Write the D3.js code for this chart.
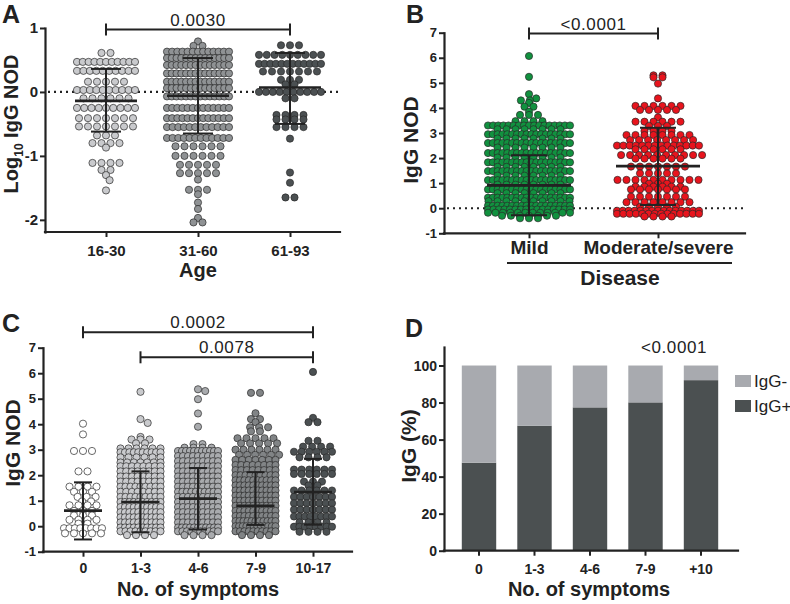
<!DOCTYPE html>
<html>
<head>
<meta charset="utf-8">
<script src="https://cdn.jsdelivr.net/npm/d3@7"></script>
<style>
  body { margin: 0; background: #fff; }
  svg { font-family: "Liberation Sans", Arial, sans-serif; }
</style>
</head>
<body>
<div id="chart"></div>
<script>
// ---- data ----
// dot rows: [value, number of points at that value]

// A: log10 IgG NOD by age
const ageGroups = ["16-30", "31-60", "61-93"];
const age1630 = [[0.61,2],[0.47,11],[0.33,10],[0.16,5],[0.03,10],[-0.1,6],[-0.25,9],[-0.41,7],[-0.54,7],[-0.68,3],[-0.8,4],[-0.87,1],[-1.11,4],[-1.22,2],[-1.3,1],[-1.38,1],[-1.54,1]];
const age3160 = [[0.79,1],[0.72,2],[0.63,13],[0.53,14],[0.42,14],[0.29,14],[0.16,14],[0.06,14],[-0.07,14],[-0.25,13],[-0.41,13],[-0.55,12],[-0.72,12],[-0.85,6],[-1.0,6],[-1.14,5],[-1.27,5],[-1.37,1],[-1.53,3],[-1.6,1],[-1.73,1],[-1.83,1],[-1.97,1],[-2.04,2]];
const age6193 = [[0.73,3],[0.58,9],[0.44,12],[0.32,7],[0.19,3],[0.12,2],[0.0,10],[-0.1,2],[-0.36,4],[-0.43,4],[-0.55,4],[-0.73,1],[-1.26,1],[-1.42,1],[-1.65,2]];
const ageMean = [-0.14, -0.06, 0.07];
const ageSdHi = [0.36, 0.53, 0.61];
const ageSdLo = [-0.62, -0.65, -0.5];

// B: IgG NOD by disease
const diseaseGroups = ["Mild", "Moderate/severe"];
const mildRows = [[6.07,1],[5.24,1],[4.55,1],[4.38,1],[4.3,2],[4.2,1],[4.05,2],[3.85,1],[3.72,3],[3.47,4],[3.3,17],[3.15,8],[2.95,18],[2.78,8],[2.6,18],[2.42,8],[2.2,18],[2.02,8],[1.83,18],[1.65,8],[1.48,18],[1.3,8],[1.12,18],[0.94,8],[0.75,18],[0.6,8],[0.42,18],[0.28,10],[0.1,18],[-0.05,16],[-0.18,12],[-0.3,7],[-0.4,3]];
const severeRows = [[5.3,2],[5.22,2],[4.97,1],[4.38,1],[4.08,6],[3.92,5],[3.62,1],[3.45,6],[3.28,3],[3.08,4],[2.92,8],[2.72,8],[2.5,14],[2.35,6],[2.12,10],[1.98,6],[1.66,7],[1.39,5],[1.13,10],[0.98,3],[0.86,6],[0.75,7],[0.46,7],[0.24,8],[0.05,5],[-0.1,15],[-0.22,14],[-0.33,4]];
const diseaseMean = [0.91, 1.68];
const diseaseSdHi = [2.11, 3.21];
const diseaseSdLo = [-0.28, 0.13];

// C: IgG NOD by number of symptoms
const symptomGroups = ["0", "1-3", "4-6", "7-9", "10-17"];
const sym0 = [[4.02,1],[3.6,1],[2.95,3],[2.15,2],[1.55,4],[1.35,3],[1.15,3],[0.97,2],[0.82,4],[0.6,3],[0.42,3],[0.25,4],[0.1,2],[-0.08,8],[-0.28,5]];
const sym13 = [[5.27,1],[4.2,1],[4.05,1],[3.5,1],[3.4,3],[3.25,2],[3.05,6],[2.9,10],[2.7,6],[2.5,7],[2.35,8],[2.15,8],[1.95,8],[1.75,8],[1.55,9],[1.35,8],[1.15,9],[0.95,10],[0.75,10],[0.55,10],[0.35,10],[0.15,10],[-0.05,10],[-0.2,9],[-0.35,4]];
const sym46 = [[5.37,1],[5.3,1],[4.98,1],[4.42,1],[3.9,1],[3.22,2],[3.08,4],[2.95,11],[2.75,9],[2.55,9],[2.35,9],[2.15,9],[1.95,9],[1.75,9],[1.55,9],[1.35,10],[1.15,9],[0.95,9],[0.75,9],[0.55,9],[0.35,9],[0.15,9],[-0.05,11],[-0.2,10],[-0.35,4]];
const sym79 = [[5.23,2],[4.43,1],[4.2,2],[4.08,1],[3.88,3],[3.72,2],[3.45,5],[3.25,5],[3.0,6],[2.8,6],[2.6,7],[2.4,8],[2.2,8],[2.0,9],[1.8,10],[1.6,10],[1.4,10],[1.2,10],[1.0,10],[0.8,10],[0.6,10],[0.4,10],[0.2,11],[0.0,12],[-0.2,10],[-0.35,4]];
const sym1017 = [[6.05,1],[4.25,1],[4.08,2],[3.35,2],[3.12,4],[2.92,6],[2.7,4],[2.22,6],[2.05,6],[1.75,3],[1.6,2],[1.4,6],[1.15,7],[0.9,7],[0.65,7],[0.38,8],[0.15,4],[-0.02,8],[-0.22,4]];
const symMean = [0.61, 0.95, 1.08, 0.8, 1.34];
const symSdHi = [1.72, 2.15, 2.28, 2.12, 2.64];
const symSdLo = [-0.52, -0.24, -0.13, 0.05, 0.06];

// D: IgG status (%) by number of symptoms
const barCats = ["0", "1-3", "4-6", "7-9", "+10"];
const igGPos = [47.5, 67.5, 77.4, 80.1, 92.1];
const igGNeg = [52.5, 32.5, 22.6, 19.9, 7.9];

// ---- drawing ----
const ink = "#222";
const svg = d3.select("#chart").append("svg")
    .attr("width", 790)
    .attr("height", 604);

// dot rows -> pixel offsets (rows spread sideways, sparse rows nudged off neighbours)
function drawDots(g, x, y, name, rows, fill, halfW) {
    const d = 7.2, maxStep = 9;
    const placed = [];
    rows.forEach(([v, n]) => {
        const step = n > 1 ? Math.min(maxStep, 2 * halfW / (n - 1)) : 0;
        const cy = y(v);
        let xs = d3.range(n).map(i => (i - (n - 1) / 2) * step);
        if (n === 1 || step >= d) {
            let best = 0;
            for (const s of [0, d / 2, -d / 2, d, -d]) {
                const ok = xs.every(px => placed.every(p => Math.hypot(p[0] - (px + s), p[1] - cy) >= d * 0.85));
                if (ok) { best = s; break; }
            }
            xs = xs.map(px => px + best);
        }
        xs.forEach(px => placed.push([px, cy]));
    });
    g.append("g").selectAll("circle")
        .data(placed)
        .join("circle")
        .attr("cx", p => x(name) + p[0])
        .attr("cy", p => p[1])
        .attr("r", 3.6)
        .attr("fill", fill)
        .attr("stroke", "#2a2a2a")
        .attr("stroke-width", 0.7);
}

function drawStats(g, x, y, name, mean, lo, hi, meanHalf, capHalf) {
    const cx = x(name);
    const s = g.append("g").attr("stroke", ink).attr("fill", "none");
    s.append("line").attr("x1", cx).attr("x2", cx).attr("y1", y(hi)).attr("y2", y(lo)).attr("stroke-width", 2);
    s.append("line").attr("x1", cx - capHalf).attr("x2", cx + capHalf).attr("y1", y(hi)).attr("y2", y(hi)).attr("stroke-width", 2);
    s.append("line").attr("x1", cx - capHalf).attr("x2", cx + capHalf).attr("y1", y(lo)).attr("y2", y(lo)).attr("stroke-width", 2);
    s.append("line").attr("x1", cx - meanHalf).attr("x2", cx + meanHalf).attr("y1", y(mean)).attr("y2", y(mean)).attr("stroke-width", 2.6);
}

function drawYAxis(g, y, x0, ticks, fs) {
    const ax = g.append("g")
        .attr("transform", `translate(${x0},0)`)
        .call(d3.axisLeft(y).tickValues(ticks).tickFormat(d => String(d))
            .tickSize(5).tickSizeOuter(0).tickPadding(2));
    ax.select(".domain").attr("stroke", ink).attr("stroke-width", 2.2).attr("stroke-linecap", "square");
    ax.selectAll(".tick line").attr("stroke", ink).attr("stroke-width", 2);
    ax.selectAll(".tick text").attr("fill", ink).style("font", `bold ${fs}px "Liberation Sans", Arial, sans-serif`);
}

function drawXAxis(g, x, yBase, x0, x1, fs, pad) {
    g.append("line").attr("x1", x0).attr("x2", x1).attr("y1", yBase).attr("y2", yBase)
        .attr("stroke", ink).attr("stroke-width", 2.2).attr("stroke-linecap", "square");
    const ax = g.append("g")
        .attr("transform", `translate(0,${yBase})`)
        .call(d3.axisBottom(x).tickSize(5).tickSizeOuter(0).tickPadding(pad));
    ax.select(".domain").remove();
    ax.selectAll(".tick line").attr("stroke", ink).attr("stroke-width", 2);
    ax.selectAll(".tick text").attr("fill", ink).style("font", `bold ${fs}px "Liberation Sans", Arial, sans-serif`);
    return ax;
}

function bracket(g, xa, xb, yl, label, ty) {
    const b = g.append("g").attr("stroke", ink).attr("stroke-width", 2);
    b.append("line").attr("x1", xa).attr("x2", xb).attr("y1", yl).attr("y2", yl);
    b.append("line").attr("x1", xa).attr("x2", xa).attr("y1", yl - 6).attr("y2", yl + 6);
    b.append("line").attr("x1", xb).attr("x2", xb).attr("y1", yl - 6).attr("y2", yl + 6);
    g.append("text").attr("x", (xa + xb) / 2).attr("y", ty)
        .attr("text-anchor", "middle").attr("fill", ink)
        .style("font-size", "17px").style("letter-spacing", "0.6px")
        .text(label);
}

function yTitle(g, x, y, fs) {
    return g.append("text")
        .attr("transform", `translate(${x},${y}) rotate(-90)`)
        .attr("text-anchor", "middle").attr("fill", ink)
        .style("font-weight", "bold").style("font-size", fs + "px");
}

function title(g, x, y, fs, txt) {
    g.append("text").attr("x", x).attr("y", y).attr("text-anchor", "middle")
        .attr("fill", ink).style("font-weight", "bold").style("font-size", fs + "px").text(txt);
}

function dottedZero(g, y, x0, x1) {
    g.append("line").attr("x1", x0 + 3).attr("x2", x1).attr("y1", y(0)).attr("y2", y(0))
        .attr("stroke", ink).attr("stroke-width", 2.2).attr("stroke-dasharray", "2,4");
}

function panelLetter(x, y, txt) {
    svg.append("text").attr("x", x).attr("y", y).attr("fill", ink)
        .style("font-weight", "bold").style("font-size", "25px").text(txt);
}

// ---------- Panel A ----------
{
    const g = svg.append("g");
    const x = d3.scalePoint().domain(ageGroups).range([106, 290]);
    const y = d3.scaleLinear().domain([-2.19, 1]).range([232, 28]);
    dottedZero(g, y, 45, 340);
    const rows = [age1630, age3160, age6193];
    const fills = ["#c9cacd", "#8f9294", "#4b5052"];
    const halfW = [29, 31, 31];
    ageGroups.forEach((k, i) => drawDots(g, x, y, k, rows[i], fills[i], halfW[i]));
    ageGroups.forEach((k, i) => drawStats(g, x, y, k, ageMean[i], ageSdLo[i], ageSdHi[i], 31, 15));
    drawYAxis(g, y, 45, [-2, -1, 0, 1], 15);
    drawXAxis(g, x, 232, 45, 340, 15, 8);
    const t = yTitle(g, 18, 124, 20);
    t.append("tspan").text("Log");
    t.append("tspan").attr("dy", 5).style("font-size", "12px").text("10");
    t.append("tspan").attr("dy", -5).text(" IgG NOD");
    title(g, 198, 277, 20, "Age");
    bracket(g, x("16-30"), x("61-93"), 29.5, "0.0030", 26);
    panelLetter(2, 23, "A");
}

// ---------- Panel B ----------
{
    const g = svg.append("g");
    const x = d3.scalePoint().domain(diseaseGroups).range([529, 658]);
    const y = d3.scaleLinear().domain([-1, 7]).range([233.3, 32.7]);
    dottedZero(g, y, 444, 745);
    const rows = [mildRows, severeRows];
    const fills = ["#11913f", "#e8141d"];
    diseaseGroups.forEach((k, i) => drawDots(g, x, y, k, rows[i], fills[i], 41));
    diseaseGroups.forEach((k, i) => drawStats(g, x, y, k, diseaseMean[i], diseaseSdLo[i], diseaseSdHi[i], 42, 18));
    drawYAxis(g, y, 444, d3.range(-1, 8), 13);
    drawXAxis(g, x, 233.3, 444, 745, 19, 2);
    g.append("line").attr("x1", 507).attr("x2", 732).attr("y1", 263).attr("y2", 263)
        .attr("stroke", ink).attr("stroke-width", 2);
    yTitle(g, 418, 140, 21).text("IgG NOD");
    title(g, 620, 285, 21, "Disease");
    bracket(g, x("Mild"), x("Moderate/severe"), 33.5, "<0.0001", 30);
    panelLetter(406, 23, "B");
}

// ---------- Panel C ----------
{
    const g = svg.append("g");
    const x = d3.scalePoint().domain(symptomGroups).range([83, 313]);
    const y = d3.scaleLinear().domain([-1, 7]).range([551.7, 347.7]);
    const rows = [sym0, sym13, sym46, sym79, sym1017];
    const fills = ["#ffffff", "#c9cacd", "#a9abae", "#818486", "#4b5052"];
    const halfW = [19, 20, 20, 20, 19];
    symptomGroups.forEach((k, i) => drawDots(g, x, y, k, rows[i], fills[i], halfW[i]));
    symptomGroups.forEach((k, i) => drawStats(g, x, y, k, symMean[i], symSdLo[i], symSdHi[i], 19, 9));
    drawYAxis(g, y, 43, d3.range(-1, 8), 13);
    drawXAxis(g, x, 551.7, 43, 352, 14, 6);
    yTitle(g, 20, 443, 21).text("IgG NOD");
    title(g, 198, 596, 20, "No. of symptoms");
    bracket(g, x("0"), x("10-17"), 332.3, "0.0002", 328);
    bracket(g, x("1-3"), x("10-17"), 357.3, "0.0078", 353);
    panelLetter(2, 332, "C");
}

// ---------- Panel D ----------
{
    const g = svg.append("g");
    const x = d3.scaleBand().domain(barCats).range([451.25, 728.75]).paddingInner(0.38).paddingOuter(0.19);
    const y = d3.scaleLinear().domain([0, 110]).range([550.7, 347]);
    const table = barCats.map((c, i) => ({ cat: c, pos: igGPos[i], neg: igGNeg[i] }));
    const series = d3.stack().keys(["pos", "neg"])(table);
    const color = { pos: "#4b5051", neg: "#a8aaaf" };
    g.append("g").selectAll("g").data(series).join("g")
        .attr("fill", s => color[s.key])
        .selectAll("rect").data(s => s).join("rect")
        .attr("x", d => x(d.data.cat))
        .attr("width", x.bandwidth())
        .attr("y", d => y(d[1]))
        .attr("height", d => y(d[0]) - y(d[1]));
    drawYAxis(g, y, 444, d3.range(0, 101, 20), 14);
    drawXAxis(g, x, 550.7, 444, 738, 14, 8);
    yTitle(g, 416, 446, 21).text("IgG (%)");
    title(g, 589, 596, 20, "No. of symptoms");
    g.append("text").attr("x", 674).attr("y", 353).attr("text-anchor", "middle").attr("fill", ink)
        .style("font-size", "17px").style("letter-spacing", "0.6px").text("<0.0001");
    // legend
    const legend = [["IgG-", color.neg], ["IgG+", color.pos]];
    legend.forEach(([lab, c], i) => {
        g.append("rect").attr("x", 735).attr("y", 375 + i * 25).attr("width", 16).attr("height", 12).attr("fill", c);
        g.append("text").attr("x", 754).attr("y", 387 + i * 25).attr("fill", ink)
            .style("font-size", "17px").text(lab);
    });
    panelLetter(405, 337, "D");
}
</script>
</body>
</html>
